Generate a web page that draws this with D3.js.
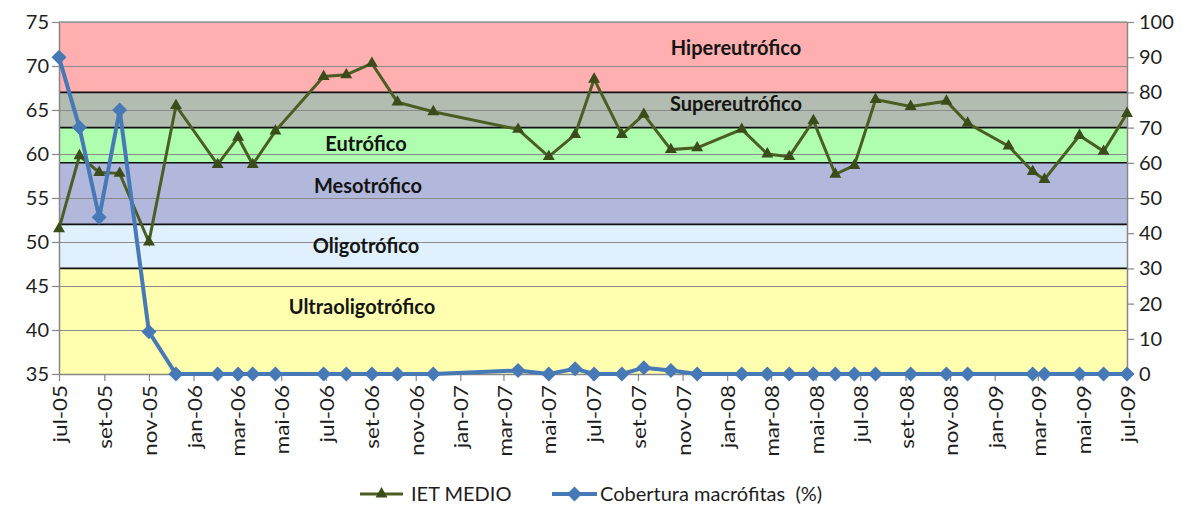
<!DOCTYPE html>
<html>
<head>
<meta charset="utf-8">
<script src="https://cdn.jsdelivr.net/npm/d3@7"></script>
<style>
  body { margin: 0; background: #fff; }
  text { font-family: Lato, "Open Sans", sans-serif; }
</style>
</head>
<body>
<script>
// Dados: IET medio e cobertura de macrofitas
var ietDates = ["2005-07-01","2005-07-29","2005-08-25","2005-09-22","2005-11-01","2005-12-08",
  "2006-02-03","2006-03-03","2006-03-23","2006-04-23","2006-06-28","2006-07-29","2006-09-02",
  "2006-10-07","2006-11-25","2007-03-21","2007-05-02","2007-06-07","2007-07-03","2007-08-10",
  "2007-09-09","2007-10-16","2007-11-21","2008-01-21","2008-02-25","2008-03-26","2008-04-28",
  "2008-05-28","2008-06-23","2008-07-22","2008-09-08","2008-10-27","2008-11-25","2009-01-20",
  "2009-02-22","2009-03-10","2009-04-27","2009-05-30","2009-07-01"];
var ietValues = [51.5, 59.8, 57.9, 57.8, 50.0, 65.5,
  58.8, 61.9, 58.8, 62.6, 68.8, 69.0, 70.3,
  65.9, 64.8, 62.8, 59.7, 62.2, 68.5, 62.2,
  64.5, 60.5, 60.7, 62.8, 60.0, 59.7, 63.8,
  57.7, 58.7, 66.2, 65.4, 66.0, 63.5, 60.9,
  58.0, 57.1, 62.1, 60.3, 64.6];

var macDates = ["2005-07-01","2005-07-29","2005-08-25","2005-09-22","2005-11-01","2005-12-08",
  "2006-02-03","2006-03-03","2006-03-23","2006-04-23","2006-06-28","2006-07-29","2006-09-02",
  "2006-10-07","2006-11-25","2007-03-21","2007-05-02","2007-06-07","2007-07-03","2007-08-10",
  "2007-09-09","2007-10-16","2007-11-21","2008-01-21","2008-02-25","2008-03-26","2008-04-28",
  "2008-05-28","2008-06-23","2008-07-22","2008-09-08","2008-10-27","2008-11-25",
  "2009-02-22","2009-03-10","2009-04-27","2009-05-30","2009-07-01"];
var macValues = [90, 70, 44.5, 75, 12, 0,
  0, 0, 0, 0, 0, 0, 0,
  0, 0, 1, 0, 1.5, 0, 0,
  1.8, 1, 0, 0, 0, 0, 0,
  0, 0, 0, 0, 0, 0,
  0, 0, 0, 0, 0];

// Classes de estado trofico (limites no eixo IET)
var bandNames = ["Ultraoligotrófico","Oligotrófico","Mesotrófico","Eutrófico","Supereutrófico","Hipereutrófico"];
var bandLimits = [35, 47, 52, 59, 63, 67, 75];
var bandColors = ["#ffffaf","#e1f0fd","#b2b8dc","#affdaf","#b3bcb0","#ffafaf"];

var leftTicks = [35, 40, 45, 50, 55, 60, 65, 70, 75];
var rightTicks = [0, 10, 20, 30, 40, 50, 60, 70, 80, 90, 100];
var monthNames = ["jan","fev","mar","abr","mai","jun","jul","ago","set","out","nov","dez"];
var seriesNames = ["IET MEDIO", "Cobertura macrófitas  (%)"];

//Width and height
var w = 1186;
var h = 509;
var margin = {top: 22, right: 59, bottom: 135, left: 59};

// posicao dos rotulos das faixas (x em pixels, y no eixo IET)
var labelPos = [[362, 42.6], [366, 49.5], [368, 56.4], [366, 61.1], [736, 65.7], [736, 72.0]];

var parse = d3.timeParse("%Y-%m-%d");

var x = d3.scaleTime()
    .domain([parse("2005-07-01"), parse("2009-07-01")])
    .range([margin.left, w - margin.right]);

var y = d3.scaleLinear()
    .domain([35, 75])
    .range([h - margin.bottom, margin.top]);

var y2 = d3.scaleLinear()
    .domain([0, 100])
    .range([h - margin.bottom, margin.top]);

var svg = d3.select("body")
    .append("svg")
    .attr("width", w)
    .attr("height", h);

//Faixas coloridas
svg.append("g")
    .selectAll("rect")
    .data(bandNames)
    .enter()
    .append("rect")
    .attr("x", margin.left)
    .attr("width", w - margin.right - margin.left)
    .attr("y", function (d, i) { return y(bandLimits[i + 1]); })
    .attr("height", function (d, i) { return y(bandLimits[i]) - y(bandLimits[i + 1]); })
    .style("fill", function (d, i) { return bandColors[i]; });

//Grade horizontal
svg.append("g")
    .selectAll("line")
    .data(leftTicks.slice(1))
    .enter()
    .append("line")
    .attr("x1", margin.left)
    .attr("x2", w - margin.right)
    .attr("y1", function (d) { return Math.round(y(d)) + 0.5; })
    .attr("y2", function (d) { return Math.round(y(d)) + 0.5; })
    .style("stroke", "#8a8a8a")
    .style("stroke-width", 1);

//Limites das faixas
svg.append("g")
    .selectAll("line")
    .data(bandLimits.slice(1, -1))
    .enter()
    .append("line")
    .attr("x1", margin.left)
    .attr("x2", w - margin.right)
    .attr("y1", function (d) { return y(d); })
    .attr("y2", function (d) { return y(d); })
    .style("stroke", "#111")
    .style("stroke-width", 1.6);

//Rotulos das faixas
svg.append("g")
    .selectAll("text")
    .data(bandNames)
    .enter()
    .append("text")
    .attr("x", function (d, i) { return labelPos[i][0]; })
    .attr("y", function (d, i) { return y(labelPos[i][1]); })
    .attr("dy", "0.35em")
    .attr("text-anchor", "middle")
    .style("font-size", "20px")
    .style("font-weight", "bold")
    .style("fill", "#141414")
    .text(function (d) { return d; });

//Eixos
var fmtMonth = function (d) {
    return monthNames[d.getMonth()] + "-" + d3.timeFormat("%y")(d);
};

var xAxis = svg.append("g")
    .attr("transform", "translate(0," + (h - margin.bottom) + ")")
    .call(d3.axisBottom(x).ticks(d3.timeMonth.every(2)).tickSize(7).tickSizeOuter(0).tickFormat(fmtMonth));

xAxis.selectAll("text")
    .attr("text-anchor", "end")
    .attr("transform", "translate(1,11) rotate(-90) scale(1.18,1)")
    .attr("x", 0)
    .attr("y", 0)
    .attr("dy", "0.35em")
    .style("font-size", "19px");

var yAxis = svg.append("g")
    .attr("transform", "translate(" + margin.left + ",0)")
    .call(d3.axisLeft(y).tickValues(leftTicks).tickSize(7).tickSizeOuter(0).tickPadding(3));

var yAxis2 = svg.append("g")
    .attr("transform", "translate(" + (w - margin.right) + ",0)")
    .call(d3.axisRight(y2).tickValues(rightTicks).tickSize(7).tickSizeOuter(0).tickPadding(5));

[xAxis, yAxis, yAxis2].forEach(function (a) {
    a.select(".domain").style("stroke", "#868686").style("stroke-width", 1.5);
    a.selectAll(".tick line").style("stroke", "#868686").style("stroke-width", 1.2);
    a.selectAll("text").style("fill", "#1e1e1e").style("font-family", "Lato, sans-serif");
});
yAxis.selectAll("text").style("font-size", "20px");
yAxis2.selectAll("text").style("font-size", "20px");

//Borda superior
svg.append("line")
    .attr("x1", margin.left)
    .attr("x2", w - margin.right)
    .attr("y1", margin.top)
    .attr("y2", margin.top)
    .style("stroke", "#9a9a9a")
    .style("stroke-width", 1.5);

//Series
var ietData = ietDates.map(function (d, i) { return {date: parse(d), value: ietValues[i]}; });
var macData = macDates.map(function (d, i) { return {date: parse(d), value: macValues[i]}; });

var greenLine = "#4a5d23";
var greenMarker = "#3b4c1b";
var blueLine = "#4679b6";

var tri = d3.symbol().type(d3.symbolTriangle).size(62);
var diamond = function (r) { return "M0," + (-r) + "L" + r + ",0L0," + r + "L" + (-r) + ",0Z"; };

svg.append("path")
    .datum(ietData)
    .attr("d", d3.line().x(function (d) { return x(d.date); }).y(function (d) { return y(d.value); }))
    .style("fill", "none")
    .style("stroke", greenLine)
    .style("stroke-width", 3);

svg.append("g")
    .selectAll("path")
    .data(ietData)
    .enter()
    .append("path")
    .attr("d", tri)
    .attr("transform", function (d) { return "translate(" + x(d.date) + "," + y(d.value) + ")"; })
    .style("fill", greenMarker);

svg.append("path")
    .datum(macData)
    .attr("d", d3.line().x(function (d) { return x(d.date); }).y(function (d) { return y2(d.value); }))
    .style("fill", "none")
    .style("stroke", blueLine)
    .style("stroke-width", 4);

svg.append("g")
    .selectAll("path")
    .data(macData)
    .enter()
    .append("path")
    .attr("d", diamond(7.5))
    .attr("transform", function (d) { return "translate(" + x(d.date) + "," + y2(d.value) + ")"; })
    .style("fill", blueLine);

//Legenda
var legend = svg.append("g").attr("transform", "translate(0,494)");

legend.append("line").attr("x1", 360).attr("x2", 403)
    .style("stroke", greenLine).style("stroke-width", 3);
legend.append("path").attr("d", tri).attr("transform", "translate(381.5,0)").style("fill", greenMarker);
legend.append("text").attr("x", 411).attr("dy", "0.35em")
    .style("font-size", "20px").style("fill", "#1e1e1e").text(seriesNames[0]);

legend.append("line").attr("x1", 552).attr("x2", 597)
    .style("stroke", blueLine).style("stroke-width", 4);
legend.append("path").attr("d", diamond(7.5)).attr("transform", "translate(574.5,0)").style("fill", blueLine);
legend.append("text").attr("x", 600).attr("dy", "0.35em")
    .style("font-size", "20px").style("fill", "#1e1e1e")
    .attr("xml:space", "preserve").text(seriesNames[1]);
</script>
</body>
</html>
